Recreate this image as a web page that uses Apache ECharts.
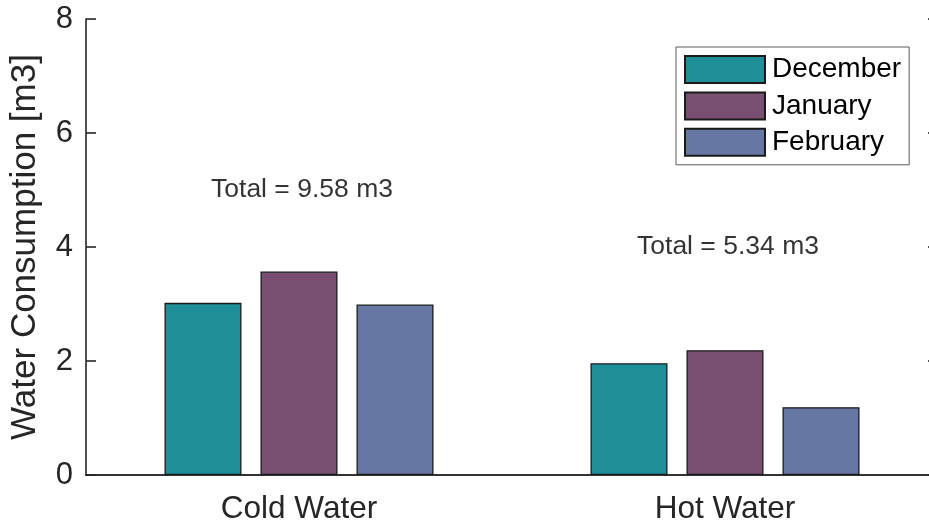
<!DOCTYPE html>
<html>
<head>
<meta charset="utf-8">
<script src="https://cdn.jsdelivr.net/npm/echarts@6/dist/echarts.min.js"></script>
<style>
html,body{margin:0;padding:0;background:#fff;overflow:hidden;width:929px;height:526px;}
#chart{width:950px;height:526px;}
</style>
</head>
<body>
<div id="chart"></div>
<script>
// ---- data ----
const categories = ['Cold Water', 'Hot Water'];
const months = ['December', 'January', 'February'];
const december = [3.02, 1.96];
const january = [3.57, 2.19];
const february = [2.99, 1.19];
const totalTextY = [5, 4];
const yTicks = [0, 2, 4, 6, 8];

const FONT = '"Liberation Sans", Arial, Helvetica, sans-serif';
const AX = '#262626';
const colors = ['#1e8e98', '#784f70', '#6577a2'];
const monthValues = [december, january, february];

const totals = categories.map((c, i) =>
  (december[i] + january[i] + february[i]).toFixed(2));

const chart = echarts.init(document.getElementById('chart'), null, {renderer: 'canvas'});

const barSeries = months.map((m, k) => ({
  name: m,
  type: 'bar',
  xAxisIndex: 0,
  yAxisIndex: 0,
  data: monthValues[k],
  barWidth: 77,
  barGap: '24.7%',
  itemStyle: {color: colors[k], borderColor: '#1a1a1a', borderWidth: 1.3},
  emphasis: {disabled: true},
  animation: false
}));

const option = {
  animation: false,
  textStyle: {fontFamily: FONT},
  grid: {left: 85, top: 19, bottom: 51, width: 853, containLabel: false},
  legend: {
    data: months,
    orient: 'vertical',
    left: 676,
    top: 47,
    icon: 'rect',
    itemWidth: 80,
    itemHeight: 27,
    itemGap: 7.4,
    padding: [8, 8, 8, 8],
    borderColor: '#5a5a5a',
    borderWidth: 1,
    backgroundColor: '#fff',
    textStyle: {fontFamily: FONT, fontSize: 28, lineHeight: 27, color: '#000', padding: [0, 0, 0, 2]},
    selectedMode: false
  },
  xAxis: [{
    type: 'category',
    data: categories,
    position: 'bottom',
    axisLine: {lineStyle: {color: AX, width: 1.6}},
    axisTick: {inside: true, alignWithLabel: true, length: 9, lineStyle: {color: AX, width: 1.6}},
    axisLabel: {fontFamily: FONT, fontSize: 31.5, color: AX, margin: 18}
  }, {
    type: 'category',
    data: categories,
    position: 'top',
    axisLine: {lineStyle: {color: AX, width: 1.6}},
    axisTick: {inside: true, alignWithLabel: true, length: 9, lineStyle: {color: AX, width: 1.6}},
    axisLabel: {show: false}
  }],
  yAxis: [{
    type: 'value',
    min: yTicks[0],
    max: yTicks[yTicks.length - 1],
    interval: yTicks[1] - yTicks[0],
    name: 'Water Consumption [m3]',
    nameLocation: 'middle',
    nameGap: 43,
    nameTextStyle: {fontFamily: FONT, fontSize: 35, color: AX},
    axisLine: {show: true, lineStyle: {color: AX, width: 1.6}},
    axisTick: {show: true, inside: true, length: 10, lineStyle: {color: AX, width: 1.6}},
    axisLabel: {fontFamily: FONT, fontSize: 31, color: AX, margin: 13},
    splitLine: {show: false}
  }, {
    type: 'value',
    position: 'right',
    min: yTicks[0],
    max: yTicks[yTicks.length - 1],
    interval: yTicks[1] - yTicks[0],
    axisLine: {show: true, lineStyle: {color: AX, width: 1.6}},
    axisTick: {show: true, inside: true, length: 10, lineStyle: {color: AX, width: 1.6}},
    axisLabel: {show: false},
    splitLine: {show: false}
  }],
  series: barSeries.concat([{
    name: 'totals',
    type: 'scatter',
    xAxisIndex: 0,
    yAxisIndex: 0,
    symbolSize: 0,
    silent: true,
    data: categories.map((c, i) => [c, totalTextY[i], totals[i]]),
    label: {
      show: true,
      position: 'inside',
      offset: [3, 0],
      formatter: p => 'Total = ' + p.data[2] + ' m3',
      fontFamily: FONT,
      fontSize: 26.5,
      color: '#000'
    }
  }])
};
chart.setOption(option);
</script>
</body>
</html>
